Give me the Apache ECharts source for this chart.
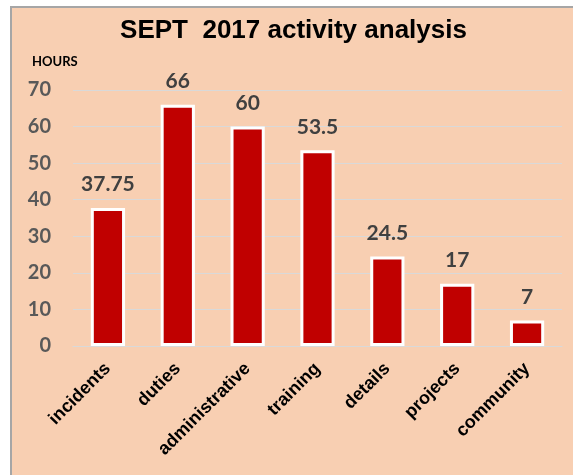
<!DOCTYPE html>
<html>
<head>
<meta charset="utf-8">
<script src="https://cdn.jsdelivr.net/npm/echarts@6/dist/echarts.min.js"></script>
<style>
  html, body { margin: 0; padding: 0; background: #fff; width: 573px; height: 475px; overflow: hidden; }
  #frame {
    position: absolute; left: 10px; top: 6px;
    width: 563px; height: 469px;
    border-top: 2px solid #a6a6a6; border-left: 2px solid #a6a6a6;
    background: #f8cfb2;
  }
  #main { width: 563px; height: 469px; }
</style>
</head>
<body>
<div id="frame"><div id="main"></div></div>
<script>
const categories = ['incidents', 'duties', 'administrative', 'training', 'details', 'projects', 'community'];
const hours = [37.75, 66, 60, 53.5, 24.5, 17, 7];
const yTicks = [0, 10, 20, 30, 40, 50, 60, 70];

let myChart = echarts.init(document.getElementById('main'));
let option = {
  backgroundColor: 'transparent',
  animation: false,
  title: [
    {
      text: 'SEPT  2017 activity analysis',
      left: 'center',
      top: 5,
      textStyle: { fontFamily: 'Liberation Sans', fontWeight: 'bold', fontSize: 26, color: '#000' }
    },
    {
      text: 'HOURS',
      left: 15,
      top: 42,
      textStyle: { fontFamily: 'Lato', fontWeight: 'bold', fontSize: 13, color: '#000' }
    }
  ],
  grid: {
    left: 61,
    right: 13,
    top: 82,
    bottom: 131
  },
  xAxis: {
    type: 'category',
    data: categories,
    axisLine: { show: true, lineStyle: { color: '#d9d9d9', width: 1 } },
    axisTick: { show: false },
    axisLabel: {
      rotate: 45,
      interval: 0,
      margin: 20,
      fontFamily: 'Liberation Sans',
      fontWeight: 'bold',
      fontSize: 18,
      color: '#000'
    }
  },
  yAxis: {
    type: 'value',
    min: yTicks[0],
    max: yTicks[yTicks.length - 1],
    interval: 10,
    axisLine: { show: false },
    axisTick: { show: false },
    splitLine: { lineStyle: { color: '#d9d9d9', width: 1 } },
    axisLabel: {
      margin: 22,
      fontFamily: 'Lato',
      fontWeight: 'bold',
      fontSize: 20,
      color: '#595959'
    }
  },
  series: [
    {
      type: 'bar',
      data: hours,
      barWidth: '49%',
      itemStyle: { color: '#c00000', borderColor: '#ffffff', borderWidth: 3 },
      label: {
        show: true,
        position: 'top',
        distance: 13,
        fontFamily: 'Lato',
        fontWeight: 'bold',
        fontSize: 21,
        color: '#404040'
      }
    }
  ]
};
myChart.setOption(option);
</script>
</body>
</html>
